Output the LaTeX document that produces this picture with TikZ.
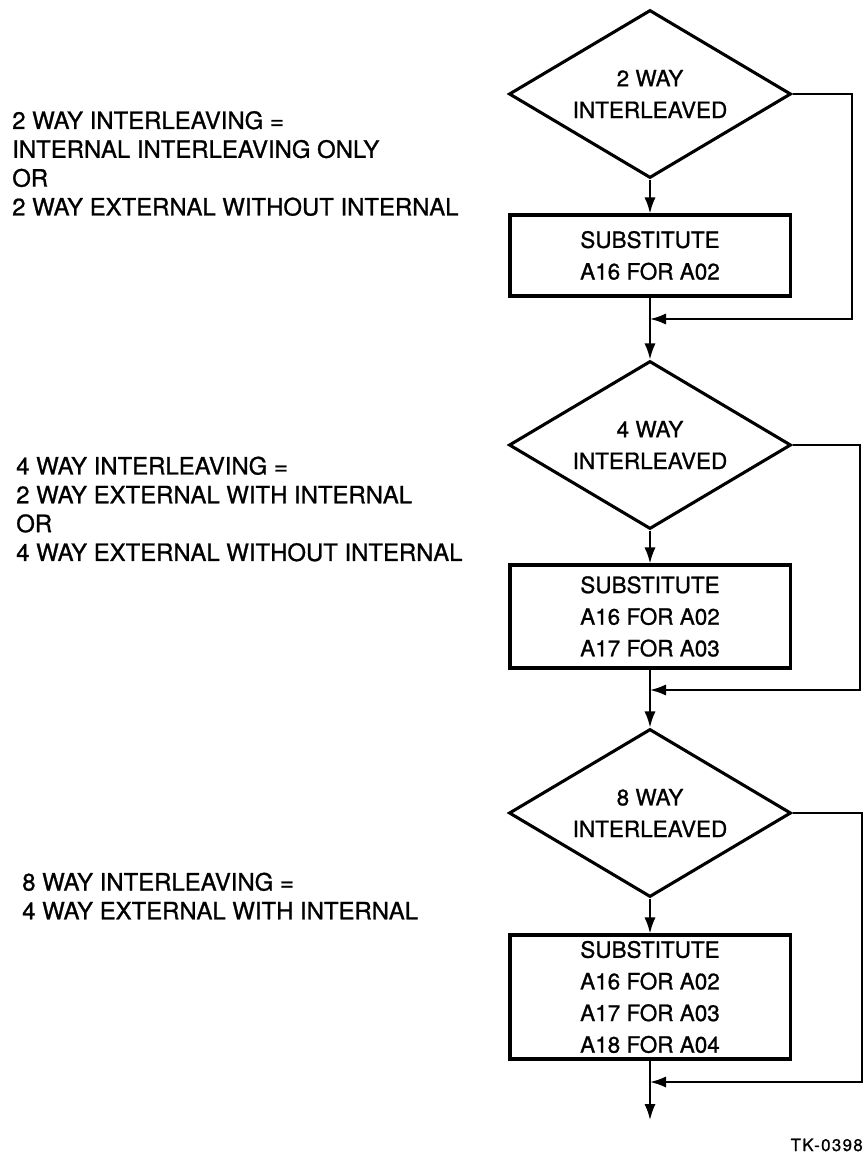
\documentclass[tikz,border=0pt]{standalone}
\usepackage{fontspec}
\setmainfont{TeX Gyre Heros}[FakeBold=1]
\usetikzlibrary{shapes.geometric,arrows.meta}

\begin{document}
\begin{tikzpicture}[x=0.025cm, y=-0.025cm,
  test/.style={diamond, aspect=1.7, draw, line width=2.2pt, inner sep=0pt,
    minimum width=7.05cm, minimum height=4.2cm, align=center,
    font=\fontsize{16}{22.5}\selectfont},
  subst/.style={rectangle, draw, line width=2.2pt, inner sep=0pt,
    minimum width=7cm, align=center, font=\fontsize{16}{22.5}\selectfont},
  flow/.style={line width=1.4pt, -{Latex[length=4mm,width=2.8mm]}},
  note/.style={anchor=west, inner sep=0pt, align=left,
    font=\fontsize{17}{20.5}\selectfont}]
\useasboundingbox (0,0) rectangle (867,1156);
% ---- 2 way: A16 replaces A02 ----
\node[test] (d2way) at (650,94) {2 WAY\\INTERLEAVED};
\node[subst, minimum height=2.025cm] (s2way) at (650,255.5) {SUBSTITUTE\\A16 FOR A02};
\coordinate (j2way) at (650,319);       % bypass joins the main line
\draw[flow] (d2way.south) -- (s2way.north);
\draw[flow] (d2way.east) -- ++(59,0) |- (j2way);
\node[note] (n2way) at (12,163.5)
 {2 WAY INTERLEAVING =\\INTERNAL INTERLEAVING ONLY\\OR\\2 WAY EXTERNAL WITHOUT INTERNAL};
% ---- 4 way: A16/A17 replace A02/A03 ----
\node[test] (d4way) at (650,445) {4 WAY\\INTERLEAVED};
\node[subst, minimum height=2.575cm] (s4way) at (650,616.5) {SUBSTITUTE\\A16 FOR A02\\A17 FOR A03};
\coordinate (j4way) at (650,690);
\draw[flow] (s2way.south) -- (d4way.north);
\draw[flow] (d4way.south) -- (s4way.north);
\draw[flow] (d4way.east) -- ++(67,0) |- (j4way);
\node[note] (n4way) at (16,509)
 {4 WAY INTERLEAVING =\\2 WAY EXTERNAL WITH INTERNAL\\OR\\4 WAY EXTERNAL WITHOUT INTERNAL};
% ---- 8 way: A16/A17/A18 replace A02/A03/A04 ----
\node[test] (d8way) at (650,813) {8 WAY\\INTERLEAVED};
\node[subst, minimum height=3.1cm] (s8way) at (650,997) {SUBSTITUTE\\A16 FOR A02\\A17 FOR A03\\A18 FOR A04};
\coordinate (j8way) at (650,1082);
\coordinate (out) at (650,1120);        % exit of the chart
\draw[flow] (s4way.south) -- (d8way.north);
\draw[flow] (d8way.south) -- (s8way.north);
\draw[flow] (d8way.east) -- ++(69,0) |- (j8way);
\draw[flow] (s8way.south) -- (out);
\node[note] (n8way) at (22,896)
 {8 WAY INTERLEAVING =\\4 WAY EXTERNAL WITH INTERNAL};
% figure number
\node[anchor=east, inner sep=0pt, font=\fontsize{12}{14}\selectfont\addfontfeatures{LetterSpace=8}] (tk) at (863,1145) {TK-0398};
\end{tikzpicture}
\end{document}
